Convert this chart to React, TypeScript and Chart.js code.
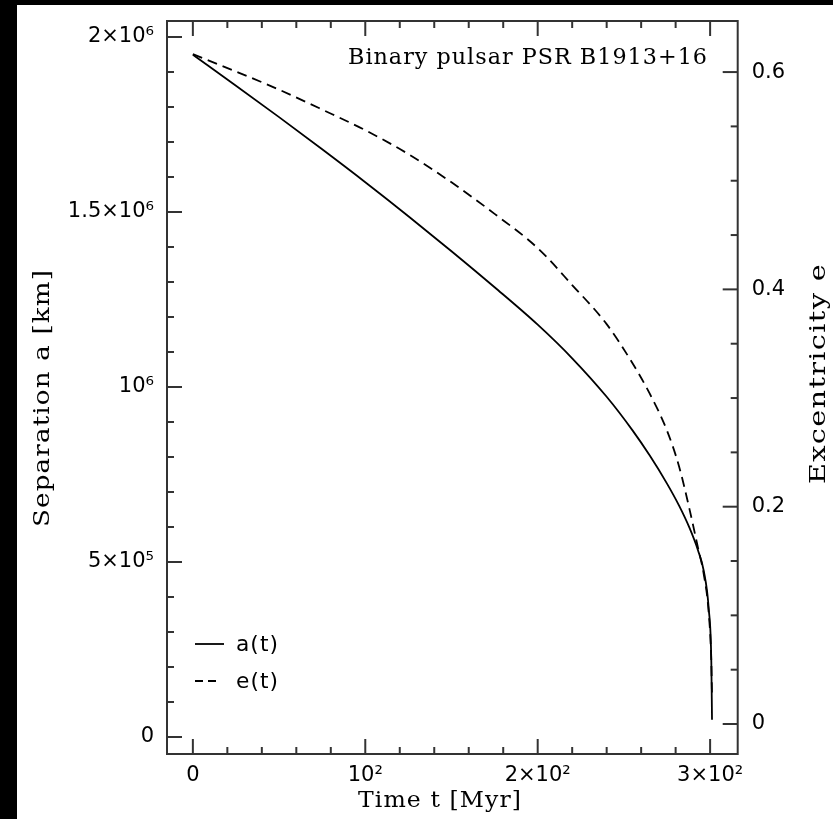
import React, { useEffect, useRef } from "react";
import { Chart, registerables } from "chart.js";

Chart.register(...registerables);

// ---- data ----
const timeMyr = [0, 25, 50, 75, 100, 125, 150, 175, 200, 220, 240, 255, 265, 275, 282, 288, 293, 296.3, 299.2, 300.7, 301.1];
const separationKm = [1949000, 1861000, 1771000, 1679000, 1585000, 1488000, 1388000, 1285000, 1178000, 1082000, 972000, 876000, 804000, 724000, 661000, 598000, 533000, 475000, 366000, 215000, 49000];
const eccentricity = [0.6165, 0.6005, 0.5838, 0.5655, 0.5465, 0.5245, 0.4985, 0.4695, 0.438, 0.404, 0.368, 0.332, 0.304, 0.27, 0.237, 0.198, 0.162, 0.138, 0.102, 0.057, 0.025];

const xTickValues = [0, 100, 200, 300];
const xTickLabels = ["0", "10²", "2×10²", "3×10²"];
const aTickValues = [0, 500000, 1000000, 1500000, 2000000];
const aTickLabels = ["0", "5×10⁵", "10⁶", "1.5×10⁶", "2×10⁶"];
const eTickValues = [0, 0.2, 0.4, 0.6];
const eTickLabels = ["0", "0.2", "0.4", "0.6"];
const seriesLabels = ["a(t)", "e(t)"];
const plotTitle = "Binary pulsar PSR B1913+16";
const xTitle = "Time t [Myr]";
const aTitle = "Separation a [km]";
const eTitle = "Excentricity e";

const SANS = '"DejaVu Sans", sans-serif';
const SERIF = '"DejaVu Serif", serif';

function drawFitText(
  ctx: CanvasRenderingContext2D,
  text: string,
  x: number,
  y: number,
  targetW: number,
  font: string,
  align: "center" | "left",
  rot: number,
  spacing: string
) {
  ctx.save();
  ctx.font = font;
  const anyCtx = ctx as any;
  if ("letterSpacing" in anyCtx) anyCtx.letterSpacing = spacing;
  const w = ctx.measureText(text).width;
  ctx.translate(x, y);
  if (rot) ctx.rotate(rot);
  ctx.scale(targetW / w, 1);
  ctx.textAlign = align;
  ctx.textBaseline = "alphabetic";
  ctx.fillStyle = "#000";
  ctx.fillText(text, 0, 0);
  ctx.restore();
}

const decorPlugin = {
  id: "decor",
  afterDraw(chart: any) {
    const { ctx, chartArea: ca, scales } = chart;
    const x = scales.x;
    const y = scales.y;
    const y2 = scales.y2;
    ctx.save();
    ctx.strokeStyle = "#333";
    ctx.lineWidth = 2;
    ctx.setLineDash([]);
    const line = (x1: number, y1: number, x2: number, y2_: number) => {
      ctx.beginPath();
      ctx.moveTo(x1, y1);
      ctx.lineTo(x2, y2_);
      ctx.stroke();
    };
    // x ticks (bottom & top)
    for (let i = 0; i <= 15; i++) {
      const v = i * 20;
      const px = x.getPixelForValue(v);
      const L = v % 100 === 0 ? 15 : 7;
      line(px, ca.bottom, px, ca.bottom - L);
      line(px, ca.top, px, ca.top + L);
    }
    // left ticks
    for (let i = 0; i <= 20; i++) {
      const v = i * 100000;
      const py = y.getPixelForValue(v);
      const L = i % 5 === 0 ? 15 : 7;
      line(ca.left, py, ca.left + L, py);
    }
    // right ticks
    for (let i = 0; i <= 12; i++) {
      const v = i * 0.05;
      const py = y2.getPixelForValue(v);
      const L = i % 4 === 0 ? 15 : 7;
      line(ca.right, py, ca.right - L, py);
    }
    // frame
    ctx.strokeRect(ca.left, ca.top, ca.right - ca.left, ca.bottom - ca.top);

    // legend
    ctx.strokeStyle = "#000";
    ctx.lineWidth = 1.8;
    line(178, 639, 207, 639);
    ctx.setLineDash([8, 5]);
    line(178, 676, 200, 676);
    ctx.setLineDash([]);
    ctx.restore();

    drawFitText(ctx, seriesLabels[0], 219, 646, 43, "21px " + SANS, "left", 0, "1px");
    drawFitText(ctx, seriesLabels[1], 219, 683, 43, "21px " + SANS, "left", 0, "1px");

    // titles
    drawFitText(ctx, plotTitle, 511, 58.5, 360, "22px " + SERIF, "center", 0, "1px");
    drawFitText(ctx, xTitle, 423, 802, 164, "22px " + SERIF, "center", 0, "1px");
    drawFitText(ctx, aTitle, 32, 393, 258, "22px " + SERIF, "center", -Math.PI / 2, "1px");
    drawFitText(ctx, eTitle, 808, 368.5, 221, "22px " + SERIF, "center", -Math.PI / 2, "1px");
  },
};

function labelFrom(values: number[], labels: string[]) {
  return (v: any) => {
    const i = values.findIndex((t) => Math.abs(t - Number(v)) < 1e-9);
    return i >= 0 ? labels[i] : "";
  };
}

export default function App() {
  const ref = useRef<HTMLCanvasElement | null>(null);

  useEffect(() => {
    document.body.style.margin = "0";
    const canvas = ref.current;
    if (!canvas) return;
    const tickFont = { family: SANS, size: 21 };
    const chart = new Chart(canvas, {
      type: "line",
      data: {
        datasets: [
          {
            label: seriesLabels[0],
            data: timeMyr.map((t, i) => ({ x: t, y: separationKm[i] })),
            yAxisID: "y",
            borderColor: "#000",
            borderWidth: 1.8,
            pointRadius: 0,
            fill: false,
            cubicInterpolationMode: "monotone",
          },
          {
            label: seriesLabels[1],
            data: timeMyr.map((t, i) => ({ x: t, y: eccentricity[i] })),
            yAxisID: "y2",
            borderColor: "#000",
            borderWidth: 1.8,
            borderDash: [10, 6],
            pointRadius: 0,
            fill: false,
            cubicInterpolationMode: "monotone",
          },
        ],
      },
      options: {
        animation: false,
        responsive: false,
        devicePixelRatio: 1,
        layout: { padding: { top: 16, left: 0, right: 0, bottom: 0 } },
        plugins: { legend: { display: false }, tooltip: { enabled: false } },
        events: [],
        scales: {
          x: {
            type: "linear",
            position: "bottom",
            min: -15,
            max: 316,
            grid: { display: false, drawTicks: false },
            border: { display: false },
            ticks: {
              font: tickFont,
              color: "#000",
              padding: 9,
              maxRotation: 0,
              autoSkip: false,
              callback: labelFrom(xTickValues, xTickLabels),
            },
            afterBuildTicks: (s: any) => {
              s.ticks = xTickValues.map((v) => ({ value: v }));
            },
            afterFit: (s: any) => {
              s.height = 65;
              s.paddingLeft = 0;
              s.paddingRight = 0;
            },
          },
          y: {
            type: "linear",
            position: "left",
            min: -48600,
            max: 2045700,
            grid: { display: false, drawTicks: false },
            border: { display: false },
            ticks: {
              font: tickFont,
              color: "#000",
              padding: 13,
              autoSkip: false,
              callback: labelFrom(aTickValues, aTickLabels),
            },
            afterBuildTicks: (s: any) => {
              s.ticks = aTickValues.map((v) => ({ value: v }));
            },
            afterFit: (s: any) => {
              s.width = 150;
              s.paddingTop = 0;
              s.paddingBottom = 0;
            },
          },
          y2: {
            type: "linear",
            position: "right",
            min: -0.0276,
            max: 0.647,
            grid: { display: false, drawTicks: false },
            border: { display: false },
            ticks: {
              font: tickFont,
              color: "#000",
              padding: 14,
              autoSkip: false,
              callback: labelFrom(eTickValues, eTickLabels),
            },
            afterBuildTicks: (s: any) => {
              s.ticks = eTickValues.map((v) => ({ value: v }));
            },
            afterFit: (s: any) => {
              s.width = 95.3;
              s.paddingTop = 0;
              s.paddingBottom = 0;
            },
          },
        },
      },
      plugins: [decorPlugin],
    } as any);
    return () => chart.destroy();
  }, []);

  return (
    <div
      style={{
        position: "fixed",
        left: 0,
        top: 0,
        width: 833,
        height: 819,
        background: "#000",
        overflow: "hidden",
      }}
    >
      <canvas
        ref={ref}
        width={816}
        height={814}
        style={{ position: "absolute", left: 17, top: 5, width: 816, height: 814, background: "#fff" }}
      />
    </div>
  );
}
